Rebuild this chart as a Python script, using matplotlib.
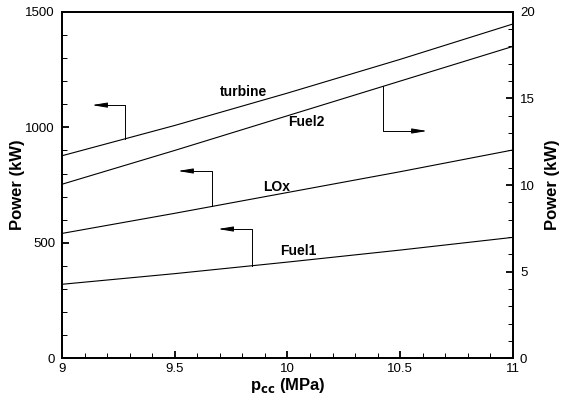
import numpy as np
import matplotlib
matplotlib.use("Agg")
import matplotlib.pyplot as plt
from matplotlib.ticker import MultipleLocator

plt.rcParams['font.family'] = ['Liberation Sans', 'DejaVu Sans']

# chamber pressure (MPa)
p_cc = [9.0, 9.5, 10.0, 10.5, 11.0]
# left axis, kW
turbine = [877, 1008, 1148, 1294, 1447]
lox = [541, 628, 718, 808, 902]
fuel1 = [321, 367, 417, 469, 524]
# right axis, kW
fuel2 = [10.05, 12.0, 14.0, 16.0, 18.0]

fig = plt.figure(figsize=(5.71, 3.97), dpi=100)
ax = fig.add_axes([0.1086, 0.097, 0.7898, 0.8735])
ax2 = ax.twinx()

lw = 0.8
ax.plot(p_cc, turbine, color='black', lw=lw)
ax.plot(p_cc, lox, color='black', lw=lw)
ax.plot(p_cc, fuel1, color='black', lw=lw)
ax2.plot(p_cc, fuel2, color='black', lw=lw)

ax.set_xlim(9, 11)
ax.set_ylim(0, 1500)
ax2.set_ylim(0, 20)

ax.xaxis.set_major_locator(MultipleLocator(0.5))
ax.xaxis.set_minor_locator(MultipleLocator(0.1))
ax.yaxis.set_major_locator(MultipleLocator(500))
ax.yaxis.set_minor_locator(MultipleLocator(100))
ax2.yaxis.set_major_locator(MultipleLocator(5))
ax2.yaxis.set_minor_locator(MultipleLocator(1))
ax.xaxis.set_major_formatter(plt.FuncFormatter(lambda v, p: f"{v:g}"))

for a in (ax, ax2):
    for s in a.spines.values():
        s.set_linewidth(1.3)
ax.tick_params(which='both', direction='in', top=False, right=False, labelsize=9.5)
ax.tick_params(which='major', length=5, width=1.3)
ax.tick_params(which='minor', length=3.5, width=0.7)
ax.tick_params(axis='y', pad=5)
ax.tick_params(axis='x', pad=3)
ax2.tick_params(which='both', direction='in', labelsize=9.5, pad=5)
ax2.tick_params(which='major', length=5, width=1.3)
ax2.tick_params(which='minor', length=3.5, width=0.7)

ax.set_xlabel(r'p$_{\mathbf{cc}}$ (MPa)', fontsize=12, fontweight='bold', labelpad=1)
ax.set_ylabel('Power (kW)', fontsize=12, fontweight='bold', labelpad=0.5)
ax2.set_ylabel('Power (kW)', fontsize=12, fontweight='bold', labelpad=7)

# curve labels
lab = dict(fontsize=10, fontweight='bold', ha='center', va='center')
ax.text(9.803, 1154, 'turbine', **lab)
ax.text(10.082, 1024, 'Fuel2', **lab)
ax.text(9.953, 743, 'LOx', **lab)
ax.text(10.049, 466, 'Fuel1', **lab)

# axis indicator arrows
def indicator(a, xs, ys, xv, ytop, xend):
    y0 = np.interp(xv, xs, ys)
    head = xend + (xv - xend) * 0.35
    a.plot([xv, xv, head], [y0, ytop, ytop], color='black', lw=0.7)
    a.annotate('', xy=(xend, ytop), xytext=(head, ytop),
               arrowprops=dict(arrowstyle='-|>,head_length=0.9,head_width=0.15',
                               color='black', lw=0.7, shrinkA=0, shrinkB=0))

indicator(ax, p_cc, turbine, 9.279, 1096, 9.133)
indicator(ax, p_cc, lox, 9.665, 811, 9.514)
indicator(ax, p_cc, fuel1, 9.843, 560, 9.692)
indicator(ax2, p_cc, fuel2, 10.424, 13.12, 10.619)

fig.savefig('out.png', dpi=100)
